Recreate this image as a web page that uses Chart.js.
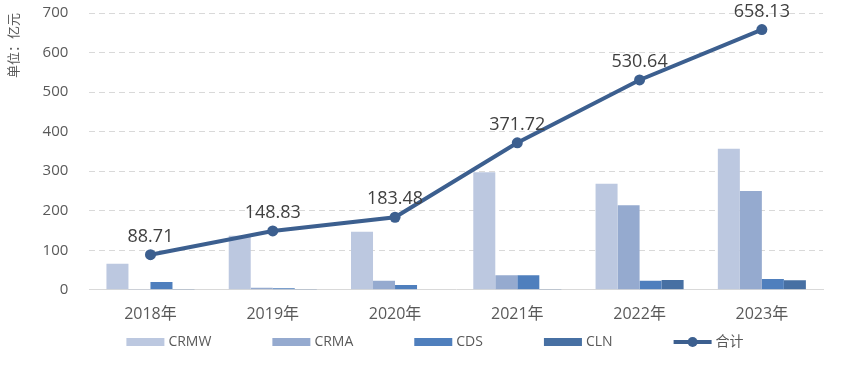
<!DOCTYPE html>
<html>
<head>
<meta charset="utf-8">
<script src="https://cdn.jsdelivr.net/npm/chart.js@4/dist/chart.umd.min.js"></script>
<style>
  html, body { margin: 0; padding: 0; background: #fff; }
  #wrap { width: 847px; height: 369px; position: relative; }
</style>
</head>
<body>
<div id="wrap"><canvas id="chart"></canvas></div>
<script>
const years = ["2018年", "2019年", "2020年", "2021年", "2022年", "2023年"];
const crmw = [66, 137, 147, 297, 268, 357];
const crma = [2, 5, 23, 37, 214, 250];
const cds = [20, 4, 12, 37, 23, 27];
const cln = [0.7, 2, 1.5, 1, 25, 24];
const total = [88.71, 148.83, 183.48, 371.72, 530.64, 658.13];

const FONT = "'Open Sans', 'Noto Sans CJK SC', sans-serif";
const lineColor = "#3c5f8f";

// labels above the line points + hand drawn legend
const extras = {
    id: "extras",
    afterDatasetsDraw(chart) {
        const ctx = chart.ctx;
        const idx = chart.data.datasets.findIndex((d) => d.type === "line");
        const meta = chart.getDatasetMeta(idx);
        ctx.save();
        ctx.font = "18px " + FONT;
        ctx.fillStyle = "#404040";
        ctx.textAlign = "center";
        ctx.textBaseline = "bottom";
        meta.data.forEach((pt, i) => {
            ctx.fillText(total[i].toFixed(2), pt.x, pt.y - 9);
        });
        ctx.restore();
    },
    afterDraw(chart) {
        const ctx = chart.ctx;
        const sets = chart.data.datasets;
        const boxW = 38, boxH = 8, gap = 4, pad = 61, cy = 342;
        ctx.save();
        ctx.font = "14px " + FONT;
        ctx.textBaseline = "middle";
        ctx.textAlign = "left";
        const widths = sets.map((d) => boxW + gap + ctx.measureText(d.label).width);
        const totalW = widths.reduce((a, b) => a + b, 0) + pad * (sets.length - 1);
        let x = 435 - totalW / 2;
        sets.forEach((d, i) => {
            if (d.type === "line") {
                ctx.strokeStyle = d.borderColor;
                ctx.lineWidth = 4;
                ctx.beginPath();
                ctx.moveTo(x, cy);
                ctx.lineTo(x + boxW, cy);
                ctx.stroke();
                ctx.fillStyle = d.borderColor;
                ctx.beginPath();
                ctx.arc(x + boxW / 2, cy, 5, 0, Math.PI * 2);
                ctx.fill();
            } else {
                ctx.fillStyle = d.backgroundColor;
                ctx.fillRect(x, cy - boxH / 2, boxW, boxH);
            }
            ctx.fillStyle = "#595959";
            ctx.fillText(d.label, x + boxW + gap, cy);
            x += widths[i] + pad;
        });
        ctx.restore();
    }
};

function bar(label, data, color) {
    return {
        type: "bar",
        label: label,
        data: data,
        backgroundColor: color,
        borderWidth: 0,
        categoryPercentage: 0.72,
        barPercentage: 1,
        order: 1
    };
}

new Chart(document.getElementById("chart"), {
    data: {
        labels: years,
        datasets: [
            bar("CRMW", crmw, "#bcc8e0"),
            bar("CRMA", crma, "#95aacf"),
            bar("CDS", cds, "#4f7fbd"),
            bar("CLN", cln, "#4770a3"),
            {
                type: "line",
                label: "合计",
                data: total,
                borderColor: lineColor,
                backgroundColor: lineColor,
                borderWidth: 4,
                pointRadius: 5.5,
                pointBackgroundColor: lineColor,
                pointBorderWidth: 0,
                order: 0
            }
        ]
    },
    options: {
        responsive: true,
        maintainAspectRatio: false,
        animation: false,
        layout: { padding: { left: 1, right: 24, top: 13, bottom: 38 } },
        plugins: {
            tooltip: { enabled: false },
            legend: { display: false }
        },
        scales: {
            x: {
                grid: { display: false },
                border: { color: "#d9d9d9", width: 1 },
                ticks: { color: "#595959", font: { family: FONT, size: 16 }, padding: 7 }
            },
            y: {
                min: 0,
                max: 700,
                afterFit(scale) {
                    scale.paddingTop = 0;
                    scale.paddingBottom = 0;
                },
                ticks: { stepSize: 100, color: "#595959", font: { family: FONT, size: 15 }, padding: 21 },
                grid: { color: "#d9d9d9", drawTicks: false },
                border: { display: false, dash: [6, 4] },
                title: {
                    display: true,
                    text: "单位：亿元",
                    align: "end",
                    color: "#595959",
                    font: { family: FONT, size: 13 },
                    padding: { top: 5, bottom: 0 }
                }
            }
        }
    },
    plugins: [extras]
});
</script>
</body>
</html>
